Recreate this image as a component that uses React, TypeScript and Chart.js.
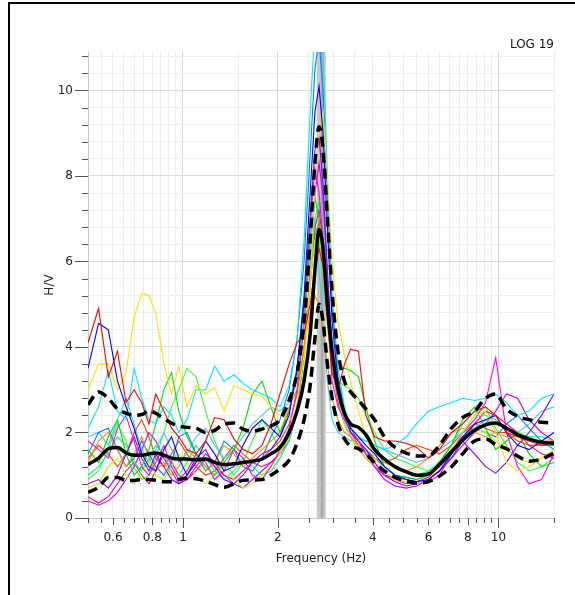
import React, { useEffect, useRef } from 'react';
import { Chart, registerables } from 'chart.js';
Chart.register(...registerables);

// Frequency axis (Hz)
const FREQ = [0.5, 0.54, 0.58, 0.62, 0.66, 0.7, 0.74, 0.78, 0.82, 0.87,
  0.92, 0.97, 1.03, 1.1, 1.18, 1.26, 1.35, 1.45, 1.55, 1.66,
  1.78, 1.9, 2.03, 2.17, 2.3, 2.42, 2.53, 2.62, 2.7, 2.78,
  2.87, 2.97, 3.1, 3.25, 3.4, 3.6, 3.8, 4.05, 4.35, 4.7,
  5.1, 5.5, 6.0, 6.5, 7.1, 7.7, 8.4, 9.1, 9.8, 10.6,
  11.5, 12.5, 13.7, 15];

const MEAN = [1.25, 1.4, 1.62, 1.65, 1.52, 1.47, 1.47, 1.5, 1.52, 1.47,
  1.4, 1.38, 1.38, 1.36, 1.38, 1.3, 1.25, 1.27, 1.3, 1.33,
  1.38, 1.5, 1.65, 2.0, 2.5, 3.2, 4.3, 5.8, 6.75, 6.3,
  5.0, 3.9, 3.0, 2.45, 2.2, 2.12, 1.95, 1.6, 1.38, 1.2,
  1.08, 1.0, 1.03, 1.25, 1.55, 1.82, 2.05, 2.18, 2.22, 2.1,
  1.95, 1.85, 1.77, 1.75];
const UPPER = [2.65, 2.95, 2.8, 2.55, 2.45, 2.4, 2.42, 2.5, 2.45, 2.32,
  2.22, 2.15, 2.12, 2.1, 2.0, 2.05, 2.2, 2.22, 2.08, 2.03,
  2.08, 2.15, 2.3, 2.75, 3.4, 4.6, 6.5, 8.3, 9.15, 8.6,
  7.0, 5.3, 3.9, 3.2, 2.95, 2.75, 2.55, 2.3, 1.9, 1.65,
  1.52, 1.45, 1.45, 1.7, 2.1, 2.35, 2.5, 2.8, 2.9, 2.55,
  2.38, 2.3, 2.24, 2.22];
const LOWER = [0.6, 0.72, 0.95, 0.95, 0.88, 0.88, 0.9, 0.9, 0.88, 0.85,
  0.85, 0.9, 0.93, 0.92, 0.86, 0.78, 0.72, 0.8, 0.88, 0.89,
  0.9, 1.0, 1.15, 1.35, 1.75, 2.3, 3.1, 4.2, 5.0, 4.6,
  3.6, 2.8, 2.2, 1.85, 1.68, 1.62, 1.5, 1.3, 1.1, 0.95,
  0.87, 0.82, 0.85, 0.98, 1.2, 1.5, 1.8, 1.85, 1.72, 1.62,
  1.45, 1.33, 1.38, 1.52];

const RED = [4.1, 4.9, 3.3, 3.9, 2.7, 3.0, 2.7, 2.2, 2.9, 2.5,
  2.1, 1.9, 1.6, 1.5, 1.8, 2.35, 2.3, 1.85, 1.6, 1.5,
  1.7, 2.2, 2.9, 3.6, 4.1, 4.3, 5.0, 5.8, 6.3, 5.9,
  4.6, 3.4, 3.0, 3.6, 3.95, 3.9, 2.4, 1.9, 1.8, 1.8,
  1.75, 1.65, 1.4, 1.6, 2.0, 2.2, 2.5, 2.6, 2.4, 2.0,
  1.9, 1.8, 1.7, 1.7];
const BLUE = [3.5, 4.55, 4.4, 3.2, 2.6, 2.1, 1.5, 1.2, 1.1, 1.6,
  1.9, 1.4, 1.0, 1.3, 1.8, 1.5, 1.1, 1.2, 1.7, 2.1,
  2.3, 2.1, 1.9, 2.4, 3.5, 5.2, 7.6, 9.5, 10.1, 9.0,
  6.8, 4.6, 3.2, 2.5, 2.1, 1.9, 1.7, 1.5, 1.2, 1.0,
  0.9, 0.85, 0.9, 1.1, 1.5, 1.9, 2.2, 2.3, 2.4, 2.0,
  1.7, 1.6, 1.8, 2.0];
const YELLOW = [3.0, 3.6, 3.6, 3.0, 3.4, 4.7, 5.25, 5.2, 4.8, 3.6,
  2.9, 3.55, 2.6, 3.1, 2.9, 3.05, 2.5, 3.1, 3.0, 2.9,
  2.85, 2.6, 2.4, 2.3, 2.4, 3.5, 5.5, 7.8, 9.0, 9.5,
  8.0, 6.0, 4.6, 3.8, 3.2, 2.5, 1.9, 1.4, 1.1, 0.9,
  0.85, 0.8, 0.9, 1.2, 1.6, 2.0, 2.4, 2.5, 2.0, 1.3,
  1.1, 1.2, 1.4, 1.5];
const CYAN = [2.1, 2.6, 3.45, 2.5, 2.3, 3.5, 2.8, 2.3, 2.2, 2.6,
  2.4, 2.0, 2.3, 3.0, 3.0, 3.55, 3.2, 3.35, 3.15, 3.0,
  2.9, 2.8, 2.6, 3.1, 4.2, 6.5, 9.5, 11.5, 12.5, 11.0,
  8.0, 5.2, 3.5, 2.6, 2.1, 1.9, 1.8, 1.7, 1.6, 1.7,
  1.9, 2.2, 2.5, 2.6, 2.7, 2.8, 2.75, 2.8, 2.9, 2.7,
  2.4, 2.5, 2.8, 2.9];
const GREEN = [1.6, 1.3, 1.9, 2.3, 1.5, 1.0, 1.2, 1.6, 2.2, 3.0,
  3.4, 2.5, 1.9, 1.5, 1.2, 1.0, 1.3, 1.6, 2.1, 2.9,
  3.2, 2.6, 2.0, 2.5, 3.3, 4.6, 6.5, 7.5, 7.0, 6.0,
  4.8, 3.8, 3.5, 3.5, 3.45, 3.3, 2.6, 1.8, 1.2, 1.0,
  0.95, 0.9, 1.0, 1.3, 1.7, 2.3, 2.6, 2.1, 1.6, 1.8,
  2.0, 1.5, 1.2, 1.3];
const MAGENTA = [1.8, 1.6, 1.4, 2.1, 2.4, 1.8, 1.2, 1.0, 1.3, 1.7,
  1.2, 0.9, 1.1, 1.5, 1.3, 0.9, 1.1, 1.6, 1.4, 1.0,
  0.9, 1.2, 1.6, 2.1, 3.0, 4.5, 6.8, 8.2, 7.6, 6.5,
  4.8, 3.2, 2.6, 2.3, 2.1, 1.8, 1.5, 1.2, 1.0, 0.95,
  0.9, 0.8, 0.85, 1.0, 1.5, 2.0, 2.3, 2.7, 3.75, 2.0,
  1.2, 0.8, 0.9, 1.5];
const ORANGE = [1.3, 1.8, 2.0, 1.6, 1.2, 1.5, 1.9, 1.4, 1.1, 1.3,
  1.0, 1.2, 1.6, 1.4, 1.1, 1.3, 1.7, 1.5, 1.2, 1.4,
  1.6, 1.8, 2.0, 2.6, 3.0, 4.0, 4.8, 5.2, 5.0, 4.4,
  3.6, 2.8, 2.3, 2.0, 1.9, 1.7, 1.5, 1.4, 1.3, 1.2,
  1.1, 1.2, 1.4, 1.7, 2.0, 2.1, 2.0, 1.9, 2.0, 1.9,
  1.9, 1.85, 1.8, 1.8];
const VIOLET = [0.8, 0.9, 0.7, 1.0, 1.5, 1.9, 1.4, 1.1, 1.5, 1.2,
  0.9, 0.8, 1.0, 1.4, 1.6, 1.2, 0.9, 0.8, 1.0, 1.3,
  1.5, 1.6, 1.9, 2.5, 3.5, 5.0, 7.0, 8.6, 8.9, 7.8,
  5.8, 4.0, 3.0, 2.4, 2.0, 1.8, 1.6, 1.3, 1.0, 0.85,
  0.75, 0.8, 0.9, 1.1, 1.4, 1.8, 1.5, 1.2, 1.05, 1.3,
  1.7, 2.0, 2.4, 2.9];
const LIME = [0.7, 0.8, 1.2, 1.4, 1.0, 0.8, 1.1, 1.3, 1.0, 0.9,
  1.2, 1.5, 1.3, 1.0, 0.8, 1.0, 1.2, 0.9, 0.7, 0.8,
  1.0, 1.2, 1.5, 1.9, 2.7, 3.8, 5.5, 6.5, 6.8, 6.0,
  4.8, 3.6, 2.8, 2.2, 1.9, 1.6, 1.4, 1.2, 1.0, 0.9,
  0.85, 0.9, 1.0, 1.2, 1.5, 1.8, 2.1, 2.0, 1.8, 1.6,
  1.4, 1.3, 1.4, 1.6];
const AZURE = [1.5, 2.0, 2.1, 1.6, 1.2, 1.4, 1.8, 1.5, 1.2, 1.0,
  1.3, 1.9, 2.0, 1.5, 1.1, 1.3, 1.8, 1.6, 1.2, 1.1,
  1.4, 1.9, 2.3, 3.0, 4.2, 6.0, 8.5, 10.5, 11.2, 10.0,
  7.5, 5.0, 3.3, 2.5, 2.0, 1.8, 1.6, 1.4, 1.2, 1.0,
  0.95, 0.9, 1.0, 1.3, 1.6, 1.9, 2.1, 2.0, 1.9, 2.2,
  2.4, 2.1, 1.8, 1.6];
const SPRING = [1.0, 1.2, 1.5, 1.9, 1.7, 1.3, 1.1, 1.4, 1.7, 1.5,
  1.1, 1.0, 1.3, 1.7, 1.4, 1.1, 0.9, 1.1, 1.4, 1.2,
  1.0, 1.1, 1.4, 1.8, 2.6, 3.8, 5.5, 7.0, 7.4, 6.8,
  5.2, 3.8, 2.9, 2.3, 2.0, 1.8, 1.6, 1.4, 1.3, 1.2,
  1.1, 1.0, 1.1, 1.3, 1.7, 2.2, 2.5, 2.4, 2.3, 2.1,
  2.0, 1.9, 1.9, 1.8];
const ROSE = [0.5, 0.35, 0.5, 0.8, 1.1, 1.3, 1.0, 0.8, 1.1, 1.5,
  1.3, 1.0, 0.9, 1.1, 1.4, 1.2, 1.0, 0.9, 1.1, 1.3,
  1.2, 1.3, 1.5, 1.9, 2.6, 3.8, 5.4, 6.8, 7.2, 6.5,
  5.0, 3.6, 2.7, 2.2, 1.9, 1.6, 1.4, 1.2, 1.0, 0.9,
  0.8, 0.85, 0.95, 1.2, 1.5, 1.8, 2.2, 2.5, 2.4, 2.2,
  2.0, 1.7, 1.5, 1.4];
const SKY = [1.9, 2.0, 1.7, 2.3, 2.8, 2.2, 1.6, 1.3, 1.6, 2.0,
  1.6, 1.3, 1.5, 1.9, 2.1, 1.7, 1.4, 1.6, 1.9, 2.2,
  2.4, 2.6, 2.5, 2.7, 3.4, 4.6, 6.2, 7.0, 5.8, 4.5,
  3.2, 2.3, 2.0, 1.9, 1.8, 1.85, 1.8, 1.7, 1.6, 1.5,
  1.4, 1.3, 1.4, 1.6, 1.8, 2.0, 2.1, 2.3, 2.2, 2.1,
  2.0, 2.2, 2.5, 2.6];
const VERMILION = [1.4, 1.7, 1.5, 1.2, 1.5, 2.0, 2.3, 1.9, 1.4, 1.2,
  1.5, 1.8, 1.5, 1.2, 1.0, 1.1, 1.4, 1.7, 1.5, 1.3,
  1.4, 1.6, 1.8, 2.2, 2.9, 4.0, 5.6, 6.6, 6.9, 6.2,
  5.0, 3.8, 2.8, 2.3, 2.0, 1.7, 1.5, 1.4, 1.3, 1.4,
  1.6, 1.7, 1.6, 1.5, 1.7, 2.0, 2.2, 2.1, 2.0, 2.0,
  1.8, 1.7, 1.7, 1.8];
const PURPLE = [0.4, 0.3, 0.4, 0.6, 0.9, 1.2, 1.6, 2.0, 1.8, 1.4,
  1.1, 0.8, 0.9, 1.2, 1.5, 1.3, 1.0, 0.8, 0.7, 0.9,
  1.1, 1.3, 1.5, 1.8, 2.5, 3.8, 5.8, 7.6, 8.3, 7.5,
  5.6, 3.9, 2.9, 2.3, 2.0, 1.8, 1.5, 1.2, 0.9, 0.75,
  0.7, 0.75, 0.9, 1.1, 1.4, 1.7, 2.0, 2.2, 2.5, 2.9,
  2.8, 2.3, 2.0, 1.8];
const GREEN2 = [0.9, 1.1, 1.6, 2.2, 1.8, 1.2, 0.9, 1.0, 1.4, 2.0,
  2.6, 3.0, 3.5, 3.3, 2.5, 1.8, 1.3, 1.0, 1.3, 1.8,
  2.3, 2.0, 1.6, 1.9, 2.6, 3.8, 5.6, 6.8, 6.5, 5.6,
  4.5, 3.6, 3.2, 3.1, 3.0, 2.8, 2.4, 2.0, 1.6, 1.4,
  1.3, 1.2, 1.1, 1.2, 1.5, 2.0, 2.4, 2.6, 2.1, 1.7,
  1.3, 1.1, 1.2, 1.4];

const WINDOWS: [number[], string][] = [
  [RED, '#ff0000'], [BLUE, '#0000ff'], [YELLOW, '#ffe000'], [CYAN, '#00e8ff'],
  [GREEN, '#00dd00'], [MAGENTA, '#ff00ff'], [ORANGE, '#ff8c00'], [VIOLET, '#7f00ff'],
  [LIME, '#b0ff00'], [AZURE, '#0080ff'], [SPRING, '#00ff80'], [ROSE, '#ff0080'],
  [SKY, '#40c8ff'], [VERMILION, '#ff4000'], [PURPLE, '#c000ff'], [GREEN2, '#33ff33'],
];

// Peak frequency band (Hz)
const BAND = [2.655, 2.835];
const BAND_CORE = [2.733, 2.787];

const X_TICKS = [0.5, 0.55, 0.6, 0.65, 0.7, 0.75, 0.8, 0.85, 0.9, 0.95, 1, 1.5, 2, 2.5, 3, 3.5, 4, 4.5, 5, 5.5, 6, 6.5, 7, 7.5, 8, 8.5, 9, 9.5, 10, 15];
const X_LABELS = [0.6, 0.8, 1, 2, 4, 6, 8, 10];
const X_MAJOR = [1, 2, 10];
const Y_LABELS = [0, 2, 4, 6, 8, 10];
const Y_STEP = 0.4;
const Y_MAX = 10.9;
const TITLE = 'LOG 19';

const FONT = 'DejaVu Sans';

const pts = (vals: number[]) => FREQ.map((f, i) => ({ x: f, y: vals[i] }));

const isYLabel = (v: number) => Y_LABELS.some((l) => Math.abs(l - v) < 1e-6);

const decor = {
  id: 'decor',
  beforeDraw(chart: any) {
    const { ctx } = chart;
    ctx.save();
    ctx.fillStyle = '#ffffff';
    ctx.fillRect(0, 0, chart.width, chart.height);
    ctx.fillStyle = '#000000';
    ctx.fillRect(8, 2, chart.width - 8, 2);
    ctx.fillRect(8, 2, 2, chart.height - 2);
    ctx.restore();
  },
  beforeDatasetsDraw(chart: any) {
    const { ctx, chartArea: a, scales } = chart;
    const x = scales.x;
    ctx.save();
    const b0 = x.getPixelForValue(BAND[0]);
    const b1 = x.getPixelForValue(BAND[1]);
    ctx.fillStyle = '#c8c8c8';
    ctx.fillRect(b0, a.top, b1 - b0, a.bottom - a.top);
    const c0 = x.getPixelForValue(BAND_CORE[0]);
    const c1 = x.getPixelForValue(BAND_CORE[1]);
    ctx.fillStyle = '#a9a9a9';
    ctx.fillRect(c0, a.top, c1 - c0, a.bottom - a.top);
    ctx.restore();
  },
  afterDraw(chart: any) {
    const { ctx, chartArea: a, scales } = chart;
    ctx.save();
    ctx.strokeStyle = '#555555';
    ctx.lineWidth = 1;
    ctx.beginPath();
    for (const t of scales.y.ticks) {
      const py = Math.round(scales.y.getPixelForValue(t.value)) + 0.5;
      const len = isYLabel(t.value) ? 13 : 6;
      ctx.moveTo(a.left - len, py);
      ctx.lineTo(a.left, py);
    }
    for (const t of scales.x.ticks) {
      const px = Math.round(scales.x.getPixelForValue(t.value)) + 0.5;
      const len = X_MAJOR.includes(t.value) ? 10 : (X_LABELS.includes(t.value) ? 7 : 5);
      ctx.moveTo(px, a.bottom);
      ctx.lineTo(px, a.bottom + len);
    }
    ctx.stroke();
    ctx.fillStyle = '#111111';
    ctx.font = `12px "${FONT}"`;
    ctx.textAlign = 'right';
    ctx.textBaseline = 'middle';
    ctx.fillText(TITLE, a.right, 45);
    ctx.restore();
  },
};

export default function App() {
  const ref = useRef<HTMLCanvasElement | null>(null);
  useEffect(() => {
    if (!ref.current) return;
    const black = [
      { label: 'Average', data: pts(MEAN), borderColor: '#000', borderWidth: 3.5, borderDash: [], cubicInterpolationMode: 'monotone' as const },
      { label: 'Average*std', data: pts(UPPER), borderColor: '#000', borderWidth: 3.5, borderDash: [10, 6], cubicInterpolationMode: 'monotone' as const },
      { label: 'Average/std', data: pts(LOWER), borderColor: '#000', borderWidth: 3.5, borderDash: [10, 6], cubicInterpolationMode: 'monotone' as const },
    ];
    const windows = WINDOWS.map(([vals, color], i) => ({
      label: 'W' + (i + 1), data: pts(vals), borderColor: color, borderWidth: 1.1, tension: 0,
    }));
    const chart = new Chart(ref.current, {
      type: 'line',
      data: { datasets: [...black, ...windows] as any },
      plugins: [decor],
      options: {
        animation: false,
        responsive: false,
        devicePixelRatio: 1,
        parsing: true,
        elements: { point: { radius: 0 }, line: { fill: false } },
        layout: { padding: { top: 52, right: 21, left: 0, bottom: 0 } },
        plugins: { legend: { display: false }, tooltip: { enabled: false }, title: { display: false } },
        scales: {
          x: {
            type: 'logarithmic',
            min: 0.5,
            max: 15,
            position: 'bottom',
            afterBuildTicks: (s: any) => { s.ticks = X_TICKS.map((v) => ({ value: v })); },
            afterFit: (s: any) => { s.height = 77; },
            ticks: {
              autoSkip: false, maxRotation: 0, padding: 13, color: '#222',
              font: { family: FONT, size: 12 },
              callback: (v: any) => (X_LABELS.includes(Number(v)) ? String(v) : ''),
            },
            grid: {
              drawTicks: false,
              color: (c: any) => (c.tick && X_MAJOR.includes(c.tick.value) ? '#d6d6d6' : '#ececec'),
            },
            border: { display: true, color: '#c8c8c8' },
            title: { display: true, text: 'Frequency (Hz)', color: '#222', font: { family: FONT, size: 12 }, padding: { top: 0, bottom: 29 } },
          },
          y: {
            type: 'linear',
            min: 0,
            max: Y_MAX,
            afterBuildTicks: (s: any) => {
              const t = [];
              for (let i = 0; i * Y_STEP <= Y_MAX; i++) t.push({ value: Math.round(i * Y_STEP * 10) / 10 });
              s.ticks = t;
            },
            afterFit: (s: any) => { s.width = 88; },
            ticks: {
              autoSkip: false, padding: 15, color: '#222',
              font: { family: FONT, size: 12 },
              callback: (v: any) => (isYLabel(Number(v)) ? String(Math.round(Number(v))) : ''),
            },
            grid: {
              drawTicks: false,
              color: (c: any) => (c.tick && isYLabel(c.tick.value) ? '#dcdcdc' : '#efefef'),
            },
            border: { display: true, color: '#c8c8c8' },
            title: { display: true, text: 'H/V', color: '#222', font: { family: FONT, size: 12 }, padding: { top: 43, bottom: 0 } },
          },
        },
      } as any,
    });
    return () => chart.destroy();
  }, []);
  return (
    <div style={{ position: 'absolute', left: 0, top: 0, width: 575, height: 595 }}>
      <canvas ref={ref} width={575} height={595} style={{ width: 575, height: 595, display: 'block' }} />
    </div>
  );
}
